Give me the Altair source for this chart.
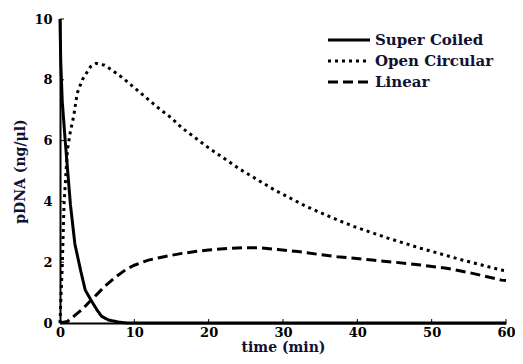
import altair as alt
import pandas as pd

# Super Coiled
sc_t = [0, 0.1, 0.3, 0.7, 1.0, 1.4, 2.0, 2.8, 3.4, 4.3, 5.0, 5.6, 6.5, 7.9, 9, 10, 20, 30, 40, 50, 60]
sc_v = [10, 8.6, 7.3, 6.0, 5.1, 3.9, 2.6, 1.7, 1.08, 0.7, 0.42, 0.22, 0.1, 0.03, 0, 0, 0, 0, 0, 0, 0]

# Open Circular
oc_t = [0, 0.15, 0.3, 0.54, 1.0, 1.4, 1.87, 2.3, 3.0, 4.1, 4.86, 6.0, 7.0, 8.5, 10.1, 13.3, 15, 16.4, 20, 24.2, 28.9, 33, 37.3, 39.6, 44, 48.5, 54, 59.4, 60]
oc_v = [0, 1.0, 1.85, 3.9, 5.7, 6.3, 6.84, 7.55, 8.0, 8.43, 8.54, 8.48, 8.32, 8.05, 7.72, 7.06, 6.74, 6.42, 5.76, 5.06, 4.37, 3.85, 3.39, 3.17, 2.8, 2.46, 2.08, 1.74, 1.72]

# Linear
li_t = [0, 1, 2, 3, 3.9, 5, 6, 7.5, 9, 10, 11.9, 14, 16.4, 18.2, 20, 22.5, 24.9, 27, 29.3, 32, 35, 37.3, 39.6, 42, 45, 48.5, 52, 55, 57, 59.4, 60]
li_v = [0, 0.05, 0.25, 0.45, 0.68, 0.95, 1.2, 1.52, 1.78, 1.9, 2.07, 2.18, 2.29, 2.35, 2.4, 2.45, 2.48, 2.47, 2.42, 2.35, 2.25, 2.18, 2.13, 2.07, 2.0, 1.91, 1.8, 1.66, 1.55, 1.41, 1.4]

series_names = ["Super Coiled", "Open Circular", "Linear"]
x_ticks = [10, 20, 30, 40, 50, 60]
y_ticks = [2, 4, 6, 8, 10]

rows = []
for name, ts, vs in zip(series_names, [sc_t, oc_t, li_t], [sc_v, oc_v, li_v]):
    for i, (t, v) in enumerate(zip(ts, vs)):
        rows.append({"series": name, "time": t, "value": v, "order": i})
df = pd.DataFrame(rows)

FONT = "DejaVu Serif"
W, H = 446, 304

xscale = alt.Scale(domain=[0, 60], nice=False, zero=False)
yscale = alt.Scale(domain=[0, 10], nice=False)

lines = alt.Chart(df).mark_line(strokeWidth=3, color="black").encode(
    x=alt.X("time:Q", scale=xscale,
            axis=alt.Axis(values=[0] + x_ticks, title="time (min)", ticks=False,
                          labelPadding=3, titlePadding=1, format="d", labelFlush=False)),
    y=alt.Y("value:Q", scale=yscale,
            axis=alt.Axis(values=[0] + y_ticks, title="pDNA (ng/\u03bcl)", ticks=False,
                          labelPadding=8, titlePadding=6, format="d", labelFlush=False)),
    strokeDash=alt.StrokeDash(
        "series:N",
        scale=alt.Scale(domain=series_names, range=[[1, 0], [3, 4], [10, 5]]),
        legend=alt.Legend(title=None, orient="none", legendX=277, legendY=9,
                          symbolType="M-2,0H2", symbolSize=441, symbolStrokeWidth=3,
                          symbolStrokeColor="black", labelFont=FONT, labelFontSize=15,
                          labelFontWeight="bold", labelColor="#111133", labelOffset=14,
                          rowPadding=1),
    ),
    order="order:Q",
)

xt = alt.Chart(pd.DataFrame({"t": x_ticks})).mark_rule(color="black", strokeWidth=1).encode(
    x=alt.X("t:Q", scale=xscale), y=alt.value(H), y2=alt.value(H - 4)
)
yt = alt.Chart(pd.DataFrame({"v": y_ticks})).mark_rule(color="black", strokeWidth=1).encode(
    y=alt.Y("v:Q", scale=yscale), x=alt.value(0), x2=alt.value(4)
)

chart = alt.layer(lines, xt, yt).properties(
    width=W, height=H,
    autosize=alt.AutoSizeParams(type="none"),
    padding={"left": 52, "top": 11, "right": 9, "bottom": 38},
).configure_view(stroke=None).configure_axis(
    domainColor="black", domainWidth=2, grid=False,
    labelFont=FONT, labelFontSize=13, labelFontWeight="bold", labelColor="black",
    titleFont=FONT, titleFontSize=14, titleFontWeight="bold", titleColor="#111133",
)

chart.save("out.html", embed_options={"renderer": "svg", "actions": False})
